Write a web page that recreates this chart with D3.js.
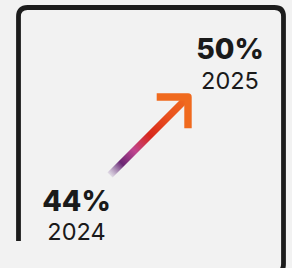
<!DOCTYPE html>
<html><head><meta charset="utf-8">
<script src="https://cdn.jsdelivr.net/npm/d3@7/dist/d3.min.js"></script>
<style>
html,body{margin:0;padding:0;background:#f2f2f2;}
svg{display:block;}
</style></head>
<body>
<svg id="chart" width="292" height="268"></svg>
<script>
const years = [2024, 2025];
const values = [44, 50];
const valueLabels = ["44%", "50%"];
const yearLabels = ["2024", "2025"];

const W = 292, H = 268;
const svg = d3.select("#chart");
svg.append("rect").attr("width", W).attr("height", H).attr("fill", "#f2f2f2");

// frame
const fl = 18.5, ft = 7.5, fr = 283.5, fb = 273, r = 9;
svg.append("path")
  .attr("d", `M${fl},241 L${fl},${ft + r} Q${fl},${ft} ${fl + r},${ft} L${fr - r},${ft} Q${fr},${ft} ${fr},${ft + r} L${fr},${fb - r} Q${fr},${fb} ${fr - r},${fb} L${fl + 40},${fb}`)
  .attr("fill", "none").attr("stroke", "#1c1c1c").attr("stroke-width", 4.8);

const x = d3.scaleLinear().domain(d3.extent(years)).range([110, 188]);
const y = d3.scaleLinear().domain(d3.extent(values)).range([175, 97]);

const defs = svg.append("defs");
const g = defs.append("linearGradient").attr("id", "grad")
  .attr("gradientUnits", "userSpaceOnUse")
  .attr("x1", x(years[0]) - 2).attr("y1", y(values[0]) + 2)
  .attr("x2", x(years[1])).attr("y2", y(values[1]));
[
  [0, "#8a6aa8", 0],
  [0.08, "#7a4a8c", 0.5],
  [0.17, "#6a2774", 1],
  [0.33, "#c0458f", 1],
  [0.52, "#d8281c", 1],
  [0.75, "#e9501e", 1],
  [1, "#f06a1e", 1]
].forEach(([o, c, a]) => g.append("stop").attr("offset", o).attr("stop-color", c).attr("stop-opacity", a));

// shaft
svg.append("line")
  .attr("x1", x(years[0])).attr("y1", y(values[0]))
  .attr("x2", x(years[1]) - 1).attr("y2", y(values[1]) + 1)
  .attr("stroke", "url(#grad)").attr("stroke-width", 7.2);

// head
const arm = 31.3;
svg.append("path")
  .attr("d", `M${x(years[1]) - arm},${y(values[1])} L${x(years[1])},${y(values[1])} L${x(years[1])},${y(values[1]) + arm}`)
  .attr("fill", "none").attr("stroke", "#f06a1e").attr("stroke-width", 7.4)
  .attr("stroke-linejoin", "round");

const labels = [
  {cx: x(years[0]) - 33.5, cy: y(values[0]) + 35.5},
  {cx: x(years[1]) + 42, cy: y(values[1]) - 38}
];
labels.forEach((p, i) => {
  svg.append("text").attr("x", p.cx).attr("y", p.cy)
    .attr("text-anchor", "middle")
    .attr("font-family", "Inter, 'Liberation Sans', sans-serif")
    .attr("font-weight", 800).attr("font-size", 28.5)
    .attr("fill", "#1a1a1a").text(valueLabels[i]);
  svg.append("text").attr("x", p.cx).attr("y", p.cy + 29.5)
    .attr("text-anchor", "middle")
    .attr("font-family", "Inter, 'Liberation Sans', sans-serif")
    .attr("font-weight", 400).attr("font-size", 23.5)
    .attr("fill", "#1a1a1a").text(yearLabels[i]);
});
</script>
</body></html>
